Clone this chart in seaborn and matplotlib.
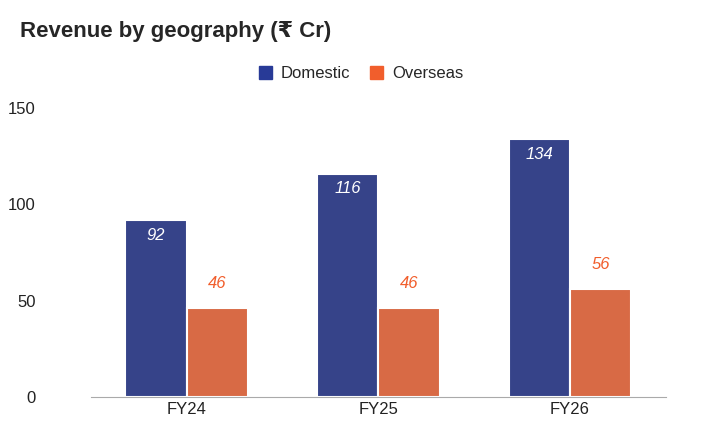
import matplotlib
matplotlib.use('Agg')
import matplotlib.pyplot as plt
import seaborn as sns
import pandas as pd

years = ['FY24', 'FY25', 'FY26']
domestic = [92, 116, 134]
overseas = [46, 46, 56]
y_ticks = [0, 50, 100, 150]

blue = '#283a97'
orange = '#f15e2c'

df = pd.DataFrame({
    'year': years * 2,
    'segment': ['Domestic'] * 3 + ['Overseas'] * 3,
    'value': domestic + overseas,
})

sns.set_style('white')
plt.rcParams['font.family'] = ['Liberation Sans', 'DejaVu Sans']

fig = plt.figure(figsize=(7.22, 4.47), dpi=100)
ax = fig.add_axes([0.126, 0.112, 0.796, 0.646])

sns.barplot(data=df, x='year', y='value', hue='segment', palette=[blue, orange],
            width=0.64, edgecolor='white', linewidth=1.5, ax=ax, legend=False)

# value labels
for i, v in enumerate(domestic):
    ax.text(i - 0.16, v - 4, str(v), ha='center', va='top', color='white',
            fontsize=12, style='italic')
for i, v in enumerate(overseas):
    ax.text(i + 0.16, v + 9, str(v), ha='center', va='bottom', color=orange,
            fontsize=12, style='italic')

ax.set_ylim(0, 150)
ax.set_xlim(-0.5, 2.5)
ax.set_yticks(y_ticks)
ax.set_xlabel('')
ax.set_ylabel('')
ax.tick_params(axis='both', length=0, labelsize=12, colors='#222222')
ax.tick_params(axis='y', pad=40)
for s in ['top', 'right', 'left']:
    ax.spines[s].set_visible(False)
ax.spines['bottom'].set_color('#aaaaaa')

fig.text(0.028, 0.93, 'Revenue by geography (₹ Cr)', fontsize=16, fontweight='bold',
         va='center', family=['DejaVu Sans'] if False else ['Liberation Sans', 'DejaVu Sans'])

handles = [plt.Rectangle((0, 0), 1, 1, color=blue), plt.Rectangle((0, 0), 1, 1, color=orange)]
fig.legend(handles, ['Domestic', 'Overseas'], loc='center', bbox_to_anchor=(0.5, 0.835),
           ncol=2, frameon=False, fontsize=12, handlelength=0.8, handleheight=0.8,
           columnspacing=1.2, handletextpad=0.5)

fig.savefig('out.png', dpi=100)
